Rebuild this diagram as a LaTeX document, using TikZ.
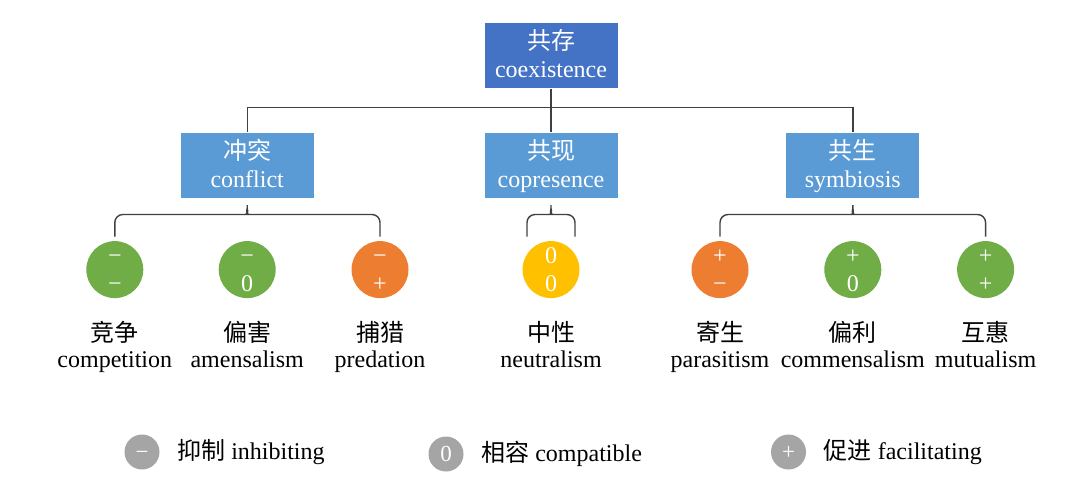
\documentclass[tikz,border=0pt]{standalone}
\usepackage{fontspec}
\setmainfont{Liberation Serif}
\newfontfamily\cjk{Noto Sans CJK SC}
\usepackage{tikz}
\usetikzlibrary{positioning,shapes}
\usepackage{xcolor}
\definecolor{rootblue}{HTML}{4472C4}
\definecolor{groupblue}{HTML}{5B9BD5}
\definecolor{relgreen}{HTML}{70AD47}
\definecolor{relorange}{HTML}{ED7D31}
\definecolor{relyellow}{HTML}{FFC000}
\definecolor{keygray}{HTML}{A5A5A5}
\definecolor{linegray}{HTML}{404040}

\newcommand{\duo}[2]{{\cjk #1}\\#2\strut}
\newcommand{\boxduo}[2]{\rule{0pt}{12.5pt}{\cjk #1}\\#2\strut}
\newcommand{\signs}[2]{\vphantom{0}#1\\\vphantom{0}#2}
\newcommand{\bracelink}[3]{%
\draw[link,rounded corners=4pt] ([yshift=2pt]#1) |- ([xshift=-3pt,yshift=-8pt]#2.south)
  .. controls +(2pt,0) and +(0,-4pt) .. ([yshift=-1pt]#2.south)
  .. controls +(0,-4pt) and +(-2pt,0) .. ([xshift=3pt,yshift=-8pt]#2.south) -| ([yshift=2pt]#3);}

\tikzset{
  rootbox/.style={fill=rootblue,text=white,align=center,inner sep=0pt,
    minimum width=66.5pt,minimum height=32.8pt,font=\fontsize{12}{14}\selectfont},
  groupbox/.style={rootbox,fill=groupblue},
  rel/.style={circle,minimum size=28.5pt,inner sep=0pt,text=white,align=center,
    font=\fontsize{12}{14}\selectfont},
  lbl/.style={align=center,inner sep=0pt,font=\fontsize{12}{13}\selectfont},
  key/.style={circle,fill=keygray,minimum size=17.5pt,inner sep=0pt,text=white,
    text height=7pt,text depth=0pt,font=\fontsize{11.5}{12}\selectfont},
  keytext/.style={inner sep=0pt,font=\fontsize{12}{13}\selectfont},
  link/.style={draw=linegray,line width=0.7pt}
}

\begin{document}
\begin{tikzpicture}[x=0.5pt,y=-0.5pt]
\useasboundingbox (0,0) rectangle (1080,494);

\node[rootbox] (coex) at (551,55.5) {\boxduo{共存}{coexistence}};
\node[groupbox] (copres) [below=21.7pt of coex] {\boxduo{共现}{copresence}};
\node[groupbox] (confl) [left=85pt of copres] {\boxduo{冲突}{conflict}};
\node[groupbox] (symb) [right=84pt of copres] {\boxduo{共生}{symbiosis}};

\node[rel,fill=relgreen] (amen) [below=21.1pt of confl] {\signs{−}{0}};
\node[rel,fill=relgreen] (comp) [left=37.3pt of amen] {\signs{−}{−}};
\node[rel,fill=relorange] (pred) [right=37.5pt of amen] {\signs{−}{+}};
\node[rel,fill=relyellow] (neut) [below=21.1pt of copres] {\signs{0}{0}};
\node[rel,fill=relgreen] (comm) [below=21.1pt of symb] {\signs{+}{0}};
\node[rel,fill=relorange] (para) [left=37.5pt of comm] {\signs{+}{−}};
\node[rel,fill=relgreen] (mutu) [right=37.5pt of comm] {\signs{+}{+}};

\node[lbl] (comp-l) [below=11pt of comp] {\duo{竞争}{competition}};
\node[lbl] (amen-l) [below=11pt of amen] {\duo{偏害}{amensalism}};
\node[lbl] (pred-l) [below=11pt of pred] {\duo{捕猎}{predation}};
\node[lbl] (neut-l) [below=11pt of neut] {\duo{中性}{neutralism}};
\node[lbl] (para-l) [below=11pt of para] {\duo{寄生}{parasitism}};
\node[lbl] (comm-l) [below=11pt of comm] {\duo{偏利}{commensalism}};
\node[lbl] (mutu-l) [below=11pt of mutu] {\duo{互惠}{mutualism}};

\draw[link] (coex) -- (copres);
\draw[link] (confl.north) -- ++(0,12.2pt) -| (symb.north);

\coordinate (neut-w) at ([xshift=-12pt]neut.north);
\coordinate (neut-e) at ([xshift=12pt]neut.north);
\bracelink{comp.north}{confl}{pred.north}
\bracelink{neut-w}{copres}{neut-e}
\bracelink{para.north}{symb}{mutu.north}

% legend
\node[key] (minus) at (142,452) {−};
\node[keytext] (minus-t) [right=8.5pt of minus] {{\cjk 抑制} inhibiting};
\node[key] (zero) at (446,454) {0};
\node[keytext] (zero-t) [right=8.5pt of zero] {{\cjk 相容} compatible};
\node[key] (plus) at (788.5,452) {+};
\node[keytext] (plus-t) [right=8.5pt of plus] {{\cjk 促进} facilitating};
\end{tikzpicture}
\end{document}
